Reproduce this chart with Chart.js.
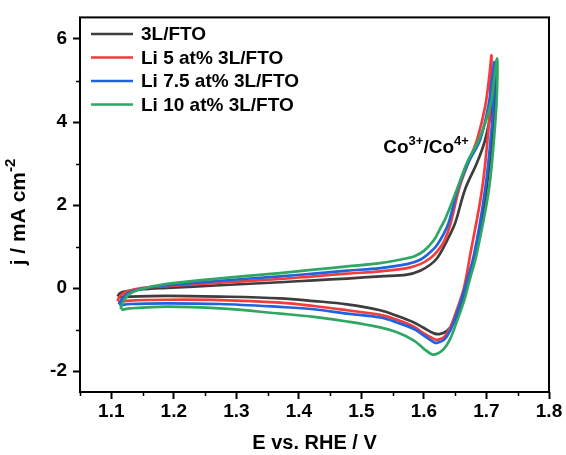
<!DOCTYPE html>
<html>
<head>
<meta charset="utf-8">
<script src="https://cdn.jsdelivr.net/npm/chart.js@4.4.0/dist/chart.umd.min.js"></script>
<style>
  html, body { margin: 0; padding: 0; background: #fff; }
  #wrap { width: 566px; height: 455px; }
</style>
</head>
<body>
<div id="wrap"><canvas id="cvChart" width="566" height="455"></canvas></div>
<script>
// CV loops: E (V vs RHE) and j (mA cm-2)
const seriesNames = ['3L/FTO', 'Li 5 at% 3L/FTO', 'Li 7.5 at% 3L/FTO', 'Li 10 at% 3L/FTO'];
const seriesColors = ['#3d3d3d', '#f53b3b', '#1f63dd', '#2ea763'];

const e3L = [1.110, 1.114, 1.126, 1.146, 1.189, 1.274, 1.370, 1.424, 1.477, 1.530, 1.573, 1.594, 1.610, 1.621, 1.632, 1.640, 1.650, 1.666, 1.685, 1.698, 1.709, 1.713, 1.714,
             1.714, 1.710, 1.700, 1.687, 1.680, 1.669, 1.658, 1.648, 1.637, 1.626, 1.616, 1.600, 1.584, 1.557, 1.530, 1.477, 1.424, 1.370, 1.274, 1.189, 1.130, 1.111];
const j3L = [-0.202, -0.119, -0.071, -0.031, 0.007, 0.071, 0.143, 0.190, 0.231, 0.286, 0.326, 0.421, 0.564, 0.721, 1.000, 1.238, 1.571, 2.388, 3.024, 3.579, 4.381, 4.929, 5.286,
             4.571, 3.738, 2.388, 1.119, 0.643, 0.088, -0.429, -0.826, -1.024, -1.102, -1.088, -0.960, -0.826, -0.667, -0.531, -0.388, -0.310, -0.245, -0.202, -0.183, -0.202, -0.226];

const eLi5 = [1.110, 1.114, 1.125, 1.151, 1.189, 1.274, 1.370, 1.424, 1.477, 1.530, 1.573, 1.594, 1.610, 1.621, 1.632, 1.642, 1.656, 1.671, 1.685, 1.698, 1.705, 1.708,
              1.707, 1.704, 1.693, 1.674, 1.664, 1.653, 1.642, 1.632, 1.621, 1.616, 1.600, 1.584, 1.557, 1.530, 1.477, 1.424, 1.370, 1.274, 1.189, 1.130, 1.111];
const jLi5 = [-0.310, -0.190, -0.083, 0.007, 0.048, 0.131, 0.221, 0.286, 0.350, 0.405, 0.483, 0.579, 0.721, 0.881, 1.119, 1.524, 2.388, 3.024, 3.579, 4.381, 5.167, 5.602,
              4.929, 3.976, 2.388, 0.802, 0.007, -0.507, -0.945, -1.183, -1.245, -1.221, -1.088, -0.929, -0.762, -0.643, -0.531, -0.429, -0.350, -0.286, -0.279, -0.298, -0.333];

const eLi75 = [1.112, 1.117, 1.128, 1.152, 1.189, 1.274, 1.370, 1.424, 1.477, 1.530, 1.573, 1.594, 1.610, 1.621, 1.632, 1.640, 1.654, 1.671, 1.690, 1.703, 1.709, 1.713,
               1.712, 1.709, 1.698, 1.680, 1.664, 1.653, 1.642, 1.632, 1.621, 1.616, 1.600, 1.584, 1.557, 1.530, 1.477, 1.424, 1.370, 1.274, 1.189, 1.130, 1.113];
const jLi75 = [-0.393, -0.269, -0.112, -0.007, 0.071, 0.179, 0.286, 0.350, 0.421, 0.483, 0.579, 0.683, 0.864, 1.040, 1.317, 1.595, 2.388, 3.024, 3.579, 4.381, 5.048, 5.445,
               4.810, 3.976, 2.388, 0.802, -0.071, -0.588, -1.024, -1.245, -1.317, -1.302, -1.143, -0.983, -0.826, -0.707, -0.612, -0.507, -0.452, -0.381, -0.364, -0.381, -0.417];

const eLi10 = [1.115, 1.118, 1.128, 1.146, 1.189, 1.274, 1.370, 1.424, 1.477, 1.530, 1.573, 1.584, 1.600, 1.616, 1.626, 1.634, 1.653, 1.669, 1.688, 1.706, 1.713, 1.717,
               1.717, 1.714, 1.704, 1.684, 1.674, 1.664, 1.653, 1.642, 1.632, 1.621, 1.613, 1.600, 1.584, 1.557, 1.530, 1.477, 1.424, 1.370, 1.274, 1.189, 1.130, 1.116];
const jLi10 = [-0.512, -0.357, -0.150, -0.031, 0.102, 0.238, 0.364, 0.445, 0.524, 0.602, 0.721, 0.762, 0.898, 1.160, 1.436, 1.667, 2.388, 3.024, 3.579, 4.381, 5.119, 5.524,
               4.810, 3.976, 2.388, 0.802, 0.245, -0.310, -0.786, -1.221, -1.460, -1.579, -1.595, -1.460, -1.262, -1.064, -0.945, -0.802, -0.690, -0.612, -0.488, -0.445, -0.488, -0.524];

const xTicks = [1.1, 1.2, 1.3, 1.4, 1.5, 1.6, 1.7, 1.8];
const yTicks = [-2, 0, 2, 4, 6];

const FONT = '"Liberation Sans", Arial, sans-serif';
const allE = [e3L, eLi5, eLi75, eLi10];
const allJ = [j3L, jLi5, jLi75, jLi10];

// draw rich text (parts with optional superscript), returns width
function richText(ctx, parts, x, y, size, measureOnly) {
    let cx = x;
    parts.forEach(p => {
        const fs = p.sup ? Math.round(size * 0.7) : size;
        ctx.font = 'bold ' + fs + 'px ' + FONT;
        if (!measureOnly) ctx.fillText(p.t, cx, p.sup ? y - size * 0.38 : y);
        cx += ctx.measureText(p.t).width;
    });
    return cx - x;
}

const decorPlugin = {
    id: 'decor',
    afterDraw(chart) {
        const { ctx, chartArea: a, scales: { x, y } } = chart;
        ctx.save();

        // frame
        ctx.strokeStyle = '#000';
        ctx.lineWidth = 2;
        ctx.strokeRect(a.left, a.top, a.right - a.left, a.bottom - a.top);

        // minor ticks halfway between majors
        ctx.lineWidth = 1.5;
        ctx.beginPath();
        for (let i = 0; i < xTicks.length; i++) {
            const v = xTicks[i] - 0.05;
            if (v < x.min) continue;
            const px = Math.round(x.getPixelForValue(v)) + 0.5;
            ctx.moveTo(px, a.bottom);
            ctx.lineTo(px, a.bottom + 4);
        }
        for (let i = 0; i < yTicks.length; i++) {
            const v = yTicks[i] + 1;
            if (v > y.max) continue;
            const py = Math.round(y.getPixelForValue(v)) + 0.5;
            ctx.moveTo(a.left, py);
            ctx.lineTo(a.left - 4, py);
        }
        ctx.stroke();

        // legend
        ctx.textBaseline = 'middle';
        ctx.textAlign = 'left';
        ctx.fillStyle = '#000';
        ctx.font = 'bold 19px ' + FONT;
        seriesNames.forEach((name, i) => {
            const ly = 34 + i * 23.5;
            ctx.strokeStyle = seriesColors[i];
            ctx.lineWidth = 2.6;
            ctx.beginPath();
            ctx.moveTo(91, ly);
            ctx.lineTo(133, ly);
            ctx.stroke();
            ctx.fillText(name, 141, ly + 1);
        });

        // peak label
        richText(ctx, [{ t: 'Co' }, { t: '3+', sup: true }, { t: '/Co' }, { t: '4+', sup: true }],
            x.getPixelForValue(1.535), y.getPixelForValue(3.37), 19, false);

        // axis titles
        const xParts = [{ t: 'E vs. RHE / V' }];
        const xw = richText(ctx, xParts, 0, 0, 20, true);
        richText(ctx, xParts, (a.left + a.right) / 2 - xw / 2, 443, 20, false);

        const yParts = [{ t: 'j / mA cm' }, { t: '-2', sup: true }];
        const yw = richText(ctx, yParts, 0, 0, 21, true);
        ctx.translate(19, 212);
        ctx.rotate(-Math.PI / 2);
        richText(ctx, yParts, -yw / 2, 0, 21, false);

        ctx.restore();
    }
};

function buildChart() {
    const ctx = document.getElementById('cvChart');

    const datasets = seriesNames.map((name, i) => ({
        label: name,
        data: allE[i].map((e, k) => ({ x: e, y: allJ[i][k] })),
        showLine: true,
        borderColor: seriesColors[i],
        backgroundColor: seriesColors[i],
        borderWidth: 2.7,
        pointRadius: 0,
        tension: 0.35,
        fill: false,
        order: seriesNames.length - i
    }));

    new Chart(ctx, {
        type: 'scatter',
        data: { datasets: datasets },
        options: {
            responsive: false,
            animation: false,
            layout: { padding: { left: 0, right: 17, top: 13, bottom: 0 } },
            plugins: {
                legend: { display: false },
                tooltip: { enabled: false }
            },
            scales: {
                x: {
                    type: 'linear',
                    min: 1.05,
                    max: 1.8,
                    afterBuildTicks: s => { s.ticks = xTicks.map(v => ({ value: v })); },
                    afterFit: s => { s.height = 63; },
                    grid: { drawOnChartArea: false, drawTicks: true, tickLength: 7, tickWidth: 2, tickColor: '#000' },
                    border: { display: false },
                    ticks: {
                        color: '#000',
                        padding: 1,
                        maxRotation: 0,
                        font: { family: FONT, size: 19, weight: 'bold' },
                        callback: v => Number(v).toFixed(1)
                    }
                },
                y: {
                    type: 'linear',
                    min: -2.5,
                    max: 6.52,
                    afterBuildTicks: s => { s.ticks = yTicks.map(v => ({ value: v })); },
                    afterFit: s => { s.width = 80; },
                    grid: { drawOnChartArea: false, drawTicks: true, tickLength: 7, tickWidth: 2, tickColor: '#000' },
                    border: { display: false },
                    ticks: {
                        color: '#000',
                        padding: 6,
                        font: { family: FONT, size: 19, weight: 'bold' },
                        callback: v => String(v)
                    }
                }
            }
        },
        plugins: [decorPlugin]
    });
}

document.addEventListener('DOMContentLoaded', buildChart);
</script>
</body>
</html>
